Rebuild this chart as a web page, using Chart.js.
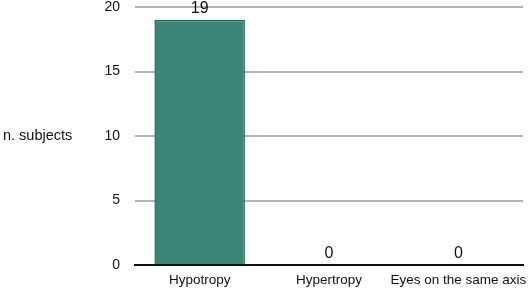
<!DOCTYPE html>
<html lang="en">
<head>
  <meta charset="UTF-8" />
  <title>n. subjects</title>
  <script src="https://cdn.jsdelivr.net/npm/chart.js"></script>
  <style>
    body { margin: 0; padding: 0; background: #fff; }
    #wrap { width: 529px; height: 290px; }
  </style>
</head>
<body>
  <div id="wrap"><canvas id="barChart"></canvas></div>

  <script>
    const categories = ['Hypotropy', 'Hypertropy', 'Eyes on the same axis'];
    const subjects = [19, 0, 0];
    const yTicks = [0, 5, 10, 15, 20];

    // value labels above the bars + horizontal axis title
    const extras = {
      id: 'extras',
      afterDatasetsDraw(chart) {
        const ctx = chart.ctx;
        const meta = chart.getDatasetMeta(0);
        ctx.save();
        ctx.fillStyle = '#111';
        ctx.font = '16px "Liberation Sans", Arial, sans-serif';
        ctx.textAlign = 'center';
        ctx.textBaseline = 'alphabetic';
        meta.data.forEach((bar, i) => {
          ctx.fillText(subjects[i], bar.x, bar.y - 7);
        });
        ctx.font = '14.5px "Liberation Sans", Arial, sans-serif';
        ctx.textAlign = 'left';
        ctx.textBaseline = 'middle';
        ctx.fillText('n. subjects', 3, chart.scales.y.getPixelForValue(10));
        ctx.restore();
      }
    };

    new Chart(document.getElementById('barChart'), {
      type: 'bar',
      data: {
        labels: categories,
        datasets: [{
          data: subjects,
          backgroundColor: '#3a8576',
          borderColor: '#1d6a5b',
          borderWidth: 1.5,
          categoryPercentage: 0.7,
          barPercentage: 1
        }]
      },
      options: {
        responsive: true,
        maintainAspectRatio: false,
        animation: false,
        layout: { padding: { top: 7, right: 6, left: 0, bottom: 0 } },
        plugins: { legend: { display: false }, tooltip: { enabled: false } },
        scales: {
          x: {
            afterFit(scale) {
              scale.height = 25;
              scale.paddingLeft = 0;
              scale.paddingRight = 0;
            },
            grid: { display: false, drawTicks: false },
            border: { color: '#111', width: 2 },
            ticks: {
              color: '#111',
              padding: 7,
              maxRotation: 0,
              autoSkip: false,
              font: { family: '"Liberation Sans", Arial, sans-serif', size: 13.5 }
            }
          },
          y: {
            min: 0,
            max: 20,
            afterFit(scale) {
              scale.width = 135;
              scale.paddingTop = 0;
              scale.paddingBottom = 0;
            },
            afterBuildTicks(scale) { scale.ticks = yTicks.map(v => ({ value: v })); },
            grid: { color: '#b4b4b4', lineWidth: 2, drawTicks: false },
            border: { display: false },
            ticks: {
              color: '#111',
              padding: 15,
              font: { family: '"Liberation Sans", Arial, sans-serif', size: 14 }
            }
          }
        }
      },
      plugins: [extras]
    });
  </script>
</body>
</html>
